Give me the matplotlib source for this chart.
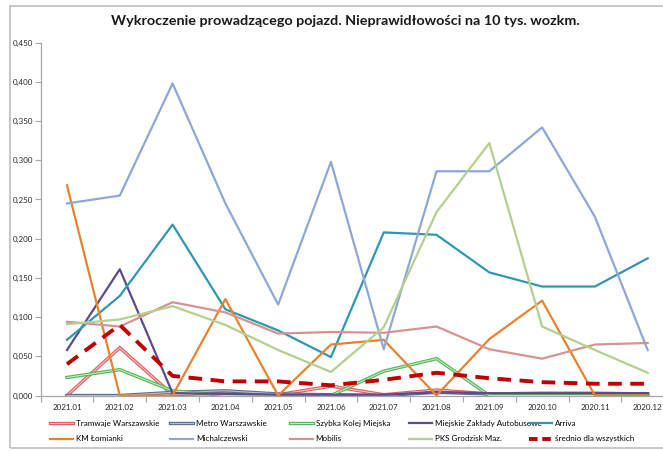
import numpy as np
import matplotlib.pyplot as plt
from matplotlib.lines import Line2D
from matplotlib.ticker import FuncFormatter

plt.rcParams['font.family'] = ['Lato', 'DejaVu Sans']

months = ['2021.01', '2021.02', '2021.03', '2021.04', '2021.05', '2021.06',
          '2021.07', '2021.08', '2021.09', '2020.10', '2020.11', '2020.12']

tramwaje = [0.000, 0.061, 0.001, 0.003, 0.001, 0.012, 0.001, 0.007, 0.002, 0.003, 0.003, 0.002]
metro = [0.000, 0.000, 0.004, 0.006, 0.002, 0.001, 0.000, 0.004, 0.002, 0.002, 0.002, 0.002]
skm = [0.023, 0.033, 0.006, 0.000, 0.000, 0.000, 0.031, 0.047, 0.000, 0.000, 0.000, 0.000]
mza = [0.058, 0.161, 0.003, 0.002, 0.001, 0.001, 0.001, 0.004, 0.003, 0.003, 0.003, 0.003]
arriva = [0.071, 0.127, 0.218, 0.110, 0.083, 0.049, 0.208, 0.205, 0.157, 0.139, 0.139, 0.175]
km_lomianki = [0.268, 0.000, 0.000, 0.123, 0.000, 0.065, 0.071, 0.000, 0.072, 0.121, 0.000, 0.000]
michalczewski = [0.245, 0.255, 0.398, 0.245, 0.116, 0.298, 0.059, 0.286, 0.286, 0.342, 0.228, 0.058]
mobilis = [0.094, 0.088, 0.119, 0.106, 0.079, 0.081, 0.080, 0.088, 0.059, 0.047, 0.065, 0.067]
pks = [0.091, 0.097, 0.114, 0.090, 0.058, 0.030, 0.087, 0.234, 0.322, 0.088, 0.058, 0.029]
srednio = [0.040, 0.090, 0.025, 0.018, 0.018, 0.013, 0.020, 0.029, 0.022, 0.017, 0.015, 0.015]

W, H = 663, 451
fig = plt.figure(figsize=(W / 100, H / 100), dpi=100)
# Excel chart area border (right edge is cut off in the reference)
fig.patches.append(plt.Rectangle((10 / W, 3 / H), 1.0, 442 / H, transform=fig.transFigure,
                                 fill=False, edgecolor='#bfbfbf', linewidth=1.2))
ax = fig.add_axes([40.6 / W, 55.5 / H, 633.5 / W, 352.8 / H])
x = np.arange(len(months))

handles = {}

def double_line(vals, outer, inner, label):
    # Excel "double" line: dark outer stroke, light inner stroke
    ax.plot(x, vals, color=outer, lw=2.4, solid_joinstyle='miter')
    ax.plot(x, vals, color=inner, lw=0.8, solid_joinstyle='miter')
    handles[label] = (Line2D([], [], color=outer, lw=2.4), Line2D([], [], color=inner, lw=0.8))

double_line(tramwaje, '#e05a5a', '#f6c7c7', 'Tramwaje Warszawskie')
double_line(metro, '#5a7090', '#b3c0d3', 'Metro Warszawskie')
double_line(skm, '#52b552', '#c4ecc4', 'Szybka Kolej Miejska')

singles = [
    (mza, '#5f4a8b', 'Miejskie Zakłady Autobusowe'),
    (arriva, '#2f98b0', 'Arriva'),
    (km_lomianki, '#e8822f', 'KM Łomianki'),
    (michalczewski, '#8ea8d6', 'Michalczewski'),
    (mobilis, '#d69392', 'Mobilis'),
    (pks, '#b4cf8e', 'PKS Grodzisk Maz.'),
]
for vals, c, lab in singles:
    h, = ax.plot(x, vals, color=c, lw=1.6)
    handles[lab] = h

ax.plot(x, srednio, color='#c00000', lw=2.8, dashes=(3.5, 2.2))
handles['średnio dla wszystkich'] = Line2D([], [], color='#c00000', lw=2.8, dashes=(2.2, 1.2))

ax.set_xlim(-0.5, 11.5)
ax.set_ylim(0, 0.45)
ax.set_yticks(np.arange(0, 0.451, 0.05))
ax.yaxis.set_major_formatter(FuncFormatter(lambda v, p: f'{v:.3f}'.replace('.', ',')))
ax.set_xticks(x)
ax.set_xticklabels(months)
ax.set_xticks(np.arange(-0.5, 12, 1), minor=True)
ax.tick_params(axis='x', which='major', length=0, labelsize=5.8, pad=6, colors='#262626')
ax.tick_params(axis='x', which='minor', length=4, color='#a6a6a6', width=0.8)
ax.tick_params(axis='y', length=4, width=0.8, labelsize=5.8, pad=1.5, labelcolor='#262626',
               color='#a6a6a6')
for s in ['top', 'right']:
    ax.spines[s].set_visible(False)
for s in ['left', 'bottom']:
    ax.spines[s].set_color('#a6a6a6')
    ax.spines[s].set_linewidth(0.9)

fig.text(345 / W, 1 - 21 / H, 'Wykroczenie prowadzącego pojazd. Nieprawidłowości na 10 tys. wozkm.',
         ha='center', va='center', fontsize=10.4, fontweight='bold', color='#1a1a1a')

# legend: 5 equal-width columns, 2 rows (Excel layout)
columns = [('Tramwaje Warszawskie', 'KM Łomianki'),
           ('Metro Warszawskie', 'Michalczewski'),
           ('Szybka Kolej Miejska', 'Mobilis'),
           ('Miejskie Zakłady Autobusowe', 'PKS Grodzisk Maz.'),
           ('Arriva', 'średnio dla wszystkich')]
col_x = [50, 170, 289.5, 409, 528.5]
for cx, labs in zip(col_x, columns):
    fig.legend([handles[l] for l in labs], labs, loc='upper left',
               bbox_to_anchor=(cx / W, 1 - 420 / H), frameon=False, fontsize=5.8,
               borderpad=0, borderaxespad=0, handlelength=2.9, handletextpad=0.35,
               labelspacing=1.05)

fig.savefig('out.png', dpi=100)
